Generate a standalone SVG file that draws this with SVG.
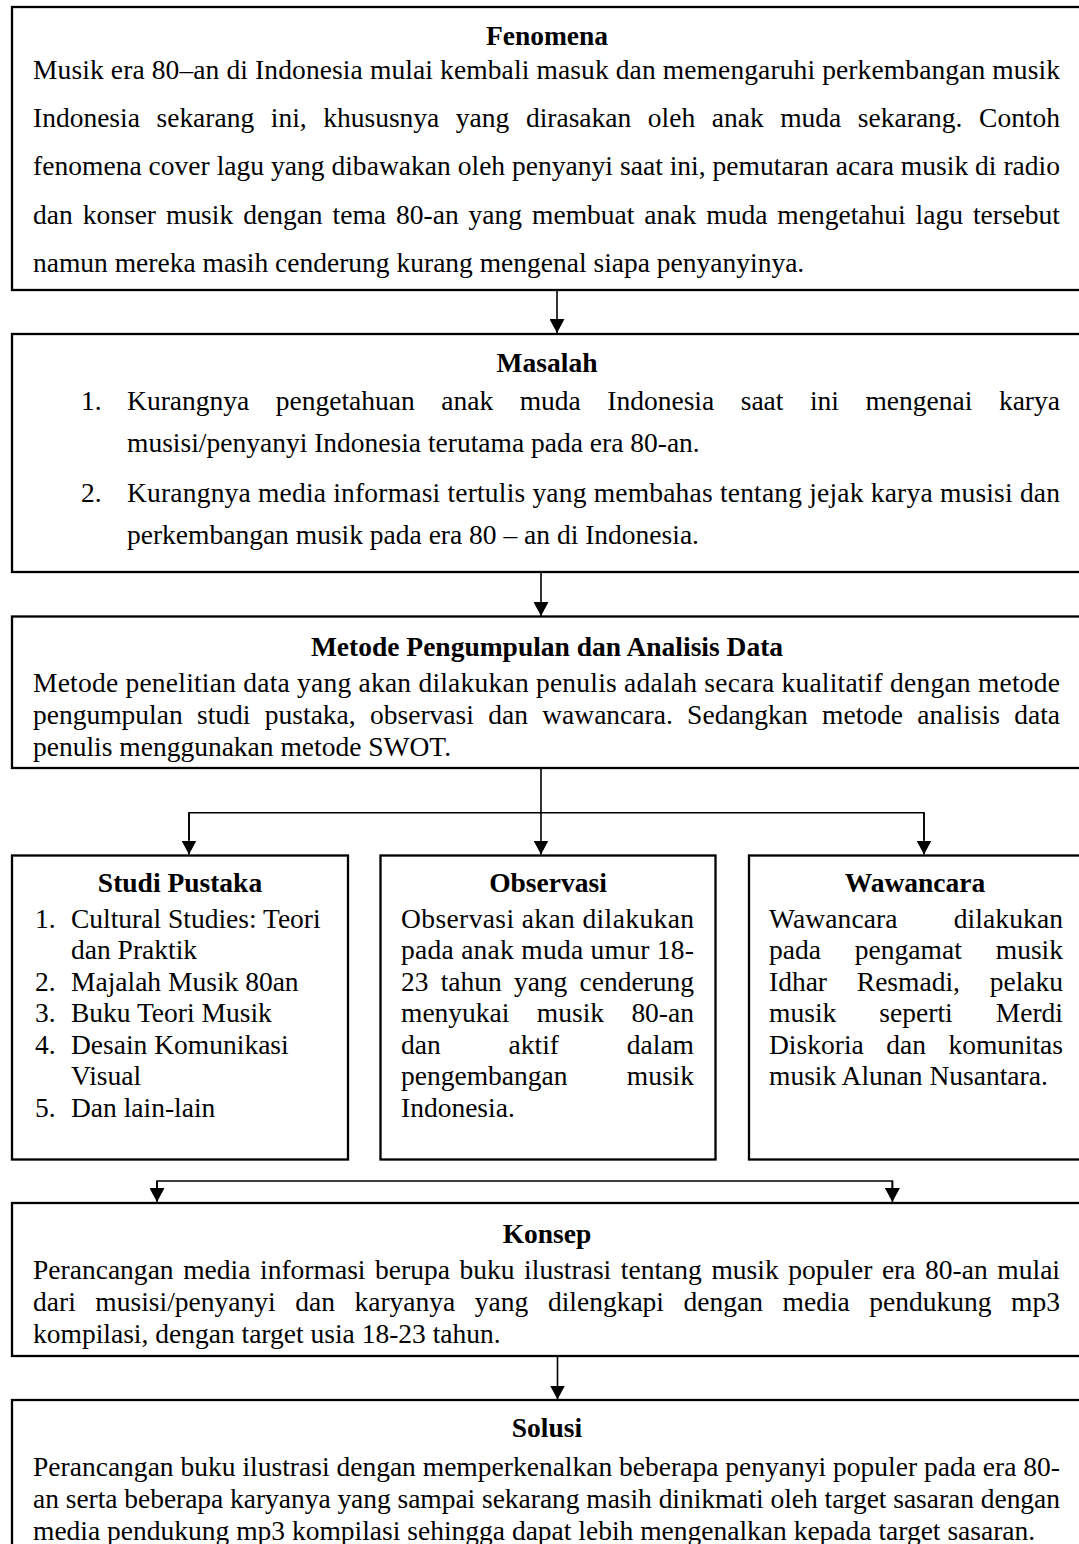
<svg xmlns="http://www.w3.org/2000/svg" width="1079" height="1544" viewBox="0 0 1079 1544">
<style>
.box{fill:#fff;stroke:#000;stroke-width:2.3}
.t{font-family:"Liberation Serif","Times New Roman",serif;font-size:27.5px;fill:#000}
.b{font-weight:bold}
.c{text-anchor:middle}
.conn{stroke:#000;stroke-width:1.6;fill:none}
</style>
<defs>
<marker id="ah" markerUnits="userSpaceOnUse" markerWidth="14" markerHeight="15" refX="14" refY="7.5" orient="auto" viewBox="0 0 14 15">
<path d="M0,0 L14,7.5 L0,15 z" fill="#000"/>
</marker>
</defs>
<rect width="1079" height="1544" fill="#fff"/>

<g id="fenomena">
<rect class="box" x="12" y="7" width="1071" height="283"/>
<text class="t b c" x="547" y="45">Fenomena</text>
<text class="t" x="33" y="79" textLength="1027" lengthAdjust="spacing">Musik era 80–an di Indonesia mulai kembali masuk dan memengaruhi perkembangan musik</text>
<text class="t" x="33" y="127" textLength="1027" lengthAdjust="spacing" word-spacing="9.7">Indonesia sekarang ini, khususnya yang dirasakan oleh anak muda sekarang. Contoh</text>
<text class="t" x="33" y="175" textLength="1027" lengthAdjust="spacing">fenomena cover lagu yang dibawakan oleh penyanyi saat ini, pemutaran acara musik di radio</text>
<text class="t" x="33" y="223.5" textLength="1027" lengthAdjust="spacing" word-spacing="3.1">dan konser musik dengan tema 80-an yang membuat anak muda mengetahui lagu tersebut</text>
<text class="t" x="33" y="272">namun mereka masih cenderung kurang mengenal siapa penyanyinya.</text>
</g>

<g id="masalah">
<rect class="box" x="12" y="334" width="1071" height="238"/>
<text class="t b c" x="547" y="371.5">Masalah</text>
<text class="t" x="81" y="410">1.</text>
<text class="t" x="127" y="410" textLength="933" lengthAdjust="spacing" word-spacing="19.6">Kurangnya pengetahuan anak muda Indonesia saat ini mengenai karya</text>
<text class="t" x="127" y="452">musisi/penyanyi Indonesia terutama pada era 80-an.</text>
<text class="t" x="81" y="502">2.</text>
<text class="t" x="127" y="502" textLength="933" lengthAdjust="spacing">Kurangnya media informasi tertulis yang membahas tentang jejak karya musisi dan</text>
<text class="t" x="127" y="544">perkembangan musik pada era 80 – an di Indonesia.</text>
</g>

<g id="metode">
<rect class="box" x="12" y="616.5" width="1071" height="151.5"/>
<text class="t b c" x="547" y="656">Metode Pengumpulan dan Analisis Data</text>
<text class="t" x="33" y="692" textLength="1027" lengthAdjust="spacing">Metode penelitian data yang akan dilakukan penulis adalah secara kualitatif dengan metode</text>
<text class="t" x="33" y="724" textLength="1027" lengthAdjust="spacing" word-spacing="7.4">pengumpulan studi pustaka, observasi dan wawancara. Sedangkan metode analisis data</text>
<text class="t" x="33" y="756">penulis menggunakan metode SWOT.</text>
</g>

<g id="studi-pustaka">
<rect class="box" x="12" y="855.5" width="336" height="304"/>
<text class="t b c" x="180" y="892">Studi Pustaka</text>
<text class="t" x="35" y="927.5">1.</text>
<text class="t" x="71" y="927.5">Cultural Studies: Teori</text>
<text class="t" x="71" y="959">dan Praktik</text>
<text class="t" x="35" y="990.5">2.</text>
<text class="t" x="71" y="990.5">Majalah Musik 80an</text>
<text class="t" x="35" y="1022">3.</text>
<text class="t" x="71" y="1022">Buku Teori Musik</text>
<text class="t" x="35" y="1053.5">4.</text>
<text class="t" x="71" y="1053.5">Desain Komunikasi</text>
<text class="t" x="71" y="1085">Visual</text>
<text class="t" x="35" y="1116.5">5.</text>
<text class="t" x="71" y="1116.5">Dan lain-lain</text>
</g>

<g id="observasi">
<rect class="box" x="380.5" y="855.5" width="335" height="304"/>
<text class="t b c" x="548" y="892">Observasi</text>
<text class="t" x="401" y="927.5" textLength="293" lengthAdjust="spacing">Observasi akan dilakukan</text>
<text class="t" x="401" y="959" textLength="293" lengthAdjust="spacing">pada anak muda umur 18-</text>
<text class="t" x="401" y="990.5" textLength="293" lengthAdjust="spacing" word-spacing="5.3">23 tahun yang cenderung</text>
<text class="t" x="401" y="1022" textLength="293" lengthAdjust="spacing" word-spacing="20.5">menyukai musik 80-an</text>
<text class="t" x="401" y="1053.5" textLength="293" lengthAdjust="spacing" word-spacing="61">dan aktif dalam</text>
<text class="t" x="401" y="1085" textLength="293" lengthAdjust="spacing" word-spacing="52.4">pengembangan musik</text>
<text class="t" x="401" y="1116.5">Indonesia.</text>
</g>

<g id="wawancara">
<rect class="box" x="749" y="855.5" width="334" height="304"/>
<text class="t b c" x="915" y="892">Wawancara</text>
<text class="t" x="769" y="927.5" textLength="294" lengthAdjust="spacing" word-spacing="49">Wawancara dilakukan</text>
<text class="t" x="769" y="959" textLength="294" lengthAdjust="spacing" word-spacing="27">pada pengamat musik</text>
<text class="t" x="769" y="990.5" textLength="294" lengthAdjust="spacing" word-spacing="22.9">Idhar Resmadi, pelaku</text>
<text class="t" x="769" y="1022" textLength="294" lengthAdjust="spacing" word-spacing="36">musik seperti Merdi</text>
<text class="t" x="769" y="1053.5" textLength="294" lengthAdjust="spacing" word-spacing="15.6">Diskoria dan komunitas</text>
<text class="t" x="769" y="1085">musik Alunan Nusantara.</text>
</g>

<g id="konsep">
<rect class="box" x="12" y="1203" width="1071" height="153"/>
<text class="t b c" x="547" y="1243">Konsep</text>
<text class="t" x="33" y="1279" textLength="1027" lengthAdjust="spacing" word-spacing="2.7">Perancangan media informasi berupa buku ilustrasi tentang musik populer era 80-an mulai</text>
<text class="t" x="33" y="1311" textLength="1027" lengthAdjust="spacing" word-spacing="12.7">dari musisi/penyanyi dan karyanya yang dilengkapi dengan media pendukung mp3</text>
<text class="t" x="33" y="1343">kompilasi, dengan target usia 18-23 tahun.</text>
</g>

<g id="solusi">
<rect class="box" x="12" y="1400" width="1071" height="170"/>
<text class="t b c" x="547" y="1437">Solusi</text>
<text class="t" x="33" y="1476" textLength="1027" lengthAdjust="spacing">Perancangan buku ilustrasi dengan memperkenalkan beberapa penyanyi populer pada era 80-</text>
<text class="t" x="33" y="1508" textLength="1027" lengthAdjust="spacing">an serta beberapa karyanya yang sampai sekarang masih dinikmati oleh target sasaran dengan</text>
<text class="t" x="33" y="1540">media pendukung mp3 kompilasi sehingga dapat lebih mengenalkan kepada target sasaran.</text>
</g>

<g id="connectors">
<line class="conn" x1="557" y1="290" x2="557" y2="333" marker-end="url(#ah)"/>
<line class="conn" x1="541" y1="572" x2="541" y2="616" marker-end="url(#ah)"/>
<line class="conn" x1="541" y1="768" x2="541" y2="854.5" marker-end="url(#ah)"/>
<polyline class="conn" points="189,840 189,812.7 924,812.7 924,840"/>
<line class="conn" x1="189" y1="812.7" x2="189" y2="854.5" marker-end="url(#ah)"/>
<line class="conn" x1="924" y1="812.7" x2="924" y2="854.5" marker-end="url(#ah)"/>
<polyline class="conn" points="157,1190 157,1181 892.4,1181 892.4,1190"/>
<line class="conn" x1="157" y1="1181" x2="157" y2="1202" marker-end="url(#ah)"/>
<line class="conn" x1="892.4" y1="1181" x2="892.4" y2="1202" marker-end="url(#ah)"/>
<line class="conn" x1="557.5" y1="1356" x2="557.5" y2="1399.5" marker-end="url(#ah)"/>
</g>
</svg>
